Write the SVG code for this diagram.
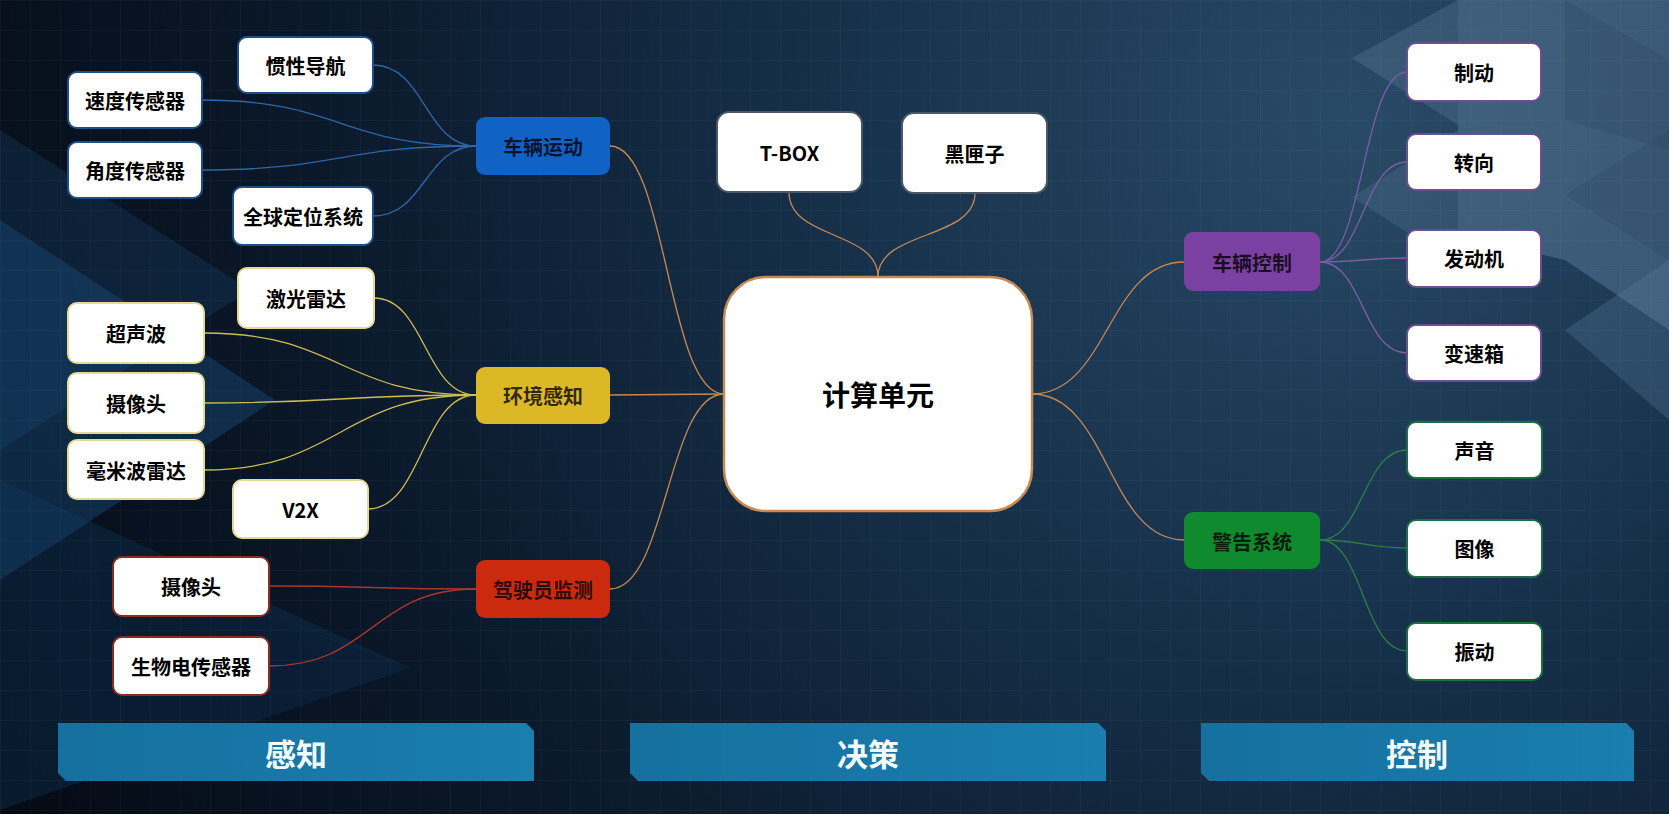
<svg xmlns="http://www.w3.org/2000/svg" width="1669" height="814" viewBox="0 0 1669 814">
<defs>
<radialGradient id="bg" cx="1350" cy="120" r="1500" gradientUnits="userSpaceOnUse">
<stop offset="0" stop-color="#294a66"/>
<stop offset="0.35" stop-color="#16304a"/>
<stop offset="0.7" stop-color="#0a1829"/>
<stop offset="1" stop-color="#050b15"/>
</radialGradient>
<pattern id="grid" width="30" height="30" patternUnits="userSpaceOnUse">
<path d="M30 0 L0 0 0 30" fill="none" stroke="#7fb0e0" stroke-opacity="0.1" stroke-width="1"/>
</pattern>
<linearGradient id="ban" x1="0" y1="0" x2="1" y2="0">
<stop offset="0" stop-color="#15709f"/>
<stop offset="1" stop-color="#1a7eae"/>
</linearGradient>
</defs>
<style>
.child{fill:#fff;stroke-width:2}
.main{stroke:none}
.t{font-family:"Noto Sans CJK SC","Noto Sans",sans-serif;font-weight:bold;font-size:20px;fill:#000;text-anchor:middle;dominant-baseline:central}
.tm{font-family:"Noto Sans CJK SC","Noto Sans",sans-serif;font-weight:bold;font-size:20px;fill:#000;fill-opacity:0.78;text-anchor:middle;dominant-baseline:central}
.tb{font-family:"Noto Sans CJK SC","Noto Sans",sans-serif;font-weight:bold;font-size:31px;fill:#f2fbff;text-anchor:middle;dominant-baseline:central}
.c{fill:none;stroke-width:1.3}
.cb{stroke:#2e66a8}.cy{stroke:#cdbd52}.cr{stroke:#a8382c}.cp{stroke:#7e5ca4}.cg{stroke:#2b7d4c}.co{stroke:#c98750}
.sb{stroke:#1d4f88}.sy{stroke:#e4da96}.sr{stroke:#8a2c22}.sp{stroke:#6e4d90}.sg{stroke:#1f6e40}.sk{stroke:#4d5866}
</style>
<!-- background -->
<rect width="1669" height="814" fill="url(#bg)"/>
<g>
<polygon points="0,220 275,400 0,580" fill="#1c5a8e" opacity="0.35"/>
<polygon points="0,130 250,290 0,450" fill="#1a4f80" opacity="0.25"/>
<polygon points="0,480 410,668 0,810" fill="#123e66" opacity="0.3"/>
<polygon points="100,560 410,668 100,780" fill="#0a1a30" opacity="0.35"/>
<polygon points="1458,0 1669,0 1669,330 1565,260 1458,235" fill="#6b8fae" opacity="0.38"/>
<polygon points="1352,58 1458,0 1458,125" fill="#7a9cb8" opacity="0.22"/>
<polygon points="1352,197 1458,130 1458,265" fill="#7a9cb8" opacity="0.18"/>
<polygon points="1565,0 1669,60 1669,150 1565,120" fill="#2d4a63" opacity="0.35"/>
<polygon points="1565,195 1669,130 1669,260" fill="#2d4a63" opacity="0.35"/>
<polygon points="1565,330 1669,260 1669,420" fill="#5a7d9b" opacity="0.3"/>
</g>
<rect width="1669" height="814" fill="url(#grid)"/>

<!-- connectors -->
<g id="connectors">
<path class="c co" d="M610,146 C667,146 667,394 724,394"/>
<path class="c co" d="M610,395 L724,394"/>
<path class="c co" d="M610,589 C667,589 667,394 724,394"/>
<path class="c co" d="M1032,394 C1108,394 1108,262 1184,262"/>
<path class="c co" d="M1032,394 C1108,394 1108,540 1184,540"/>
<path class="c co" d="M789,192 C789,240 878,230 878,277"/>
<path class="c co" d="M975,193 C975,240 878,230 878,277"/>

<path class="c cb" d="M373,65 C425,65 425,146 476,146"/>
<path class="c cb" d="M202,100 C340,100 340,146 476,146"/>
<path class="c cb" d="M202,170 C340,170 340,146 476,146"/>
<path class="c cb" d="M373,216 C425,216 425,146 476,146"/>

<path class="c cy" d="M374,298 C425,298 425,395 476,395"/>
<path class="c cy" d="M204,333 C340,333 340,395 476,395"/>
<path class="c cy" d="M204,403 C340,403 340,395 476,395"/>
<path class="c cy" d="M204,470 C340,470 340,395 476,395"/>
<path class="c cy" d="M368,509 C422,509 422,395 476,395"/>

<path class="c cr" d="M269,586 C372,586 372,589 476,589"/>
<path class="c cr" d="M269,666 C372,666 372,589 476,589"/>

<path class="c cp" d="M1320,262 C1363,262 1363,72 1407,72"/>
<path class="c cp" d="M1320,262 C1363,262 1363,162 1407,162"/>
<path class="c cp" d="M1320,262 C1363,262 1363,258 1407,258"/>
<path class="c cp" d="M1320,262 C1363,262 1363,353 1407,353"/>

<path class="c cg" d="M1320,540 C1363,540 1363,450 1407,450"/>
<path class="c cg" d="M1320,540 C1363,540 1363,548 1407,548"/>
<path class="c cg" d="M1320,540 C1363,540 1363,651 1407,651"/>
</g>

<!-- center -->
<g id="n-center">
<rect x="724" y="277" width="308" height="234" rx="42" fill="#fff" stroke="#c98a52" stroke-width="2.5"/>
<text class="t" x="878" y="394" style="font-size:28px">计算单元</text>
</g>
<g id="n-tbox"><rect class="child sk" x="717" y="112" width="145" height="80" rx="12"/><text class="t" x="789.5" y="152">T-BOX</text></g>
<g id="n-blackbox"><rect class="child sk" x="902" y="113" width="145" height="80" rx="12"/><text class="t" x="974.5" y="153">黑匣子</text></g>

<!-- main nodes -->
<g id="n-motion"><rect class="main" x="476" y="117" width="134" height="58" rx="9" fill="#1063c4"/><text class="tm" x="543" y="146">车辆运动</text></g>
<g id="n-env"><rect class="main" x="476" y="367" width="134" height="57" rx="9" fill="#dcb826"/><text class="tm" x="543" y="395">环境感知</text></g>
<g id="n-driver"><rect class="main" x="476" y="560" width="134" height="58" rx="9" fill="#cc2a0e"/><text class="tm" x="543" y="589">驾驶员监测</text></g>
<g id="n-ctrl"><rect class="main" x="1184" y="232" width="136" height="59" rx="9" fill="#7b41a2"/><text class="tm" x="1252" y="262">车辆控制</text></g>
<g id="n-warn"><rect class="main" x="1184" y="512" width="136" height="57" rx="9" fill="#0f8a2e"/><text class="tm" x="1252" y="541">警告系统</text></g>

<!-- vehicle motion children -->
<g id="n-ins"><rect class="child sb" x="238" y="37" width="135" height="56" rx="9"/><text class="t" x="305.5" y="65">惯性导航</text></g>
<g id="n-speed"><rect class="child sb" x="68" y="72" width="134" height="56" rx="9"/><text class="t" x="135" y="100">速度传感器</text></g>
<g id="n-angle"><rect class="child sb" x="68" y="142" width="134" height="56" rx="9"/><text class="t" x="135" y="170">角度传感器</text></g>
<g id="n-gps"><rect class="child sb" x="233" y="187" width="140" height="58" rx="9"/><text class="t" x="303" y="216">全球定位系统</text></g>

<!-- environment children -->
<g id="n-lidar"><rect class="child sy" x="238" y="268" width="136" height="60" rx="9"/><text class="t" x="306" y="298">激光雷达</text></g>
<g id="n-ultra"><rect class="child sy" x="68" y="303" width="136" height="60" rx="9"/><text class="t" x="136" y="333">超声波</text></g>
<g id="n-cam"><rect class="child sy" x="68" y="373" width="136" height="60" rx="9"/><text class="t" x="136" y="403">摄像头</text></g>
<g id="n-mmw"><rect class="child sy" x="68" y="440" width="136" height="59" rx="9"/><text class="t" x="136" y="470">毫米波雷达</text></g>
<g id="n-v2x"><rect class="child sy" x="233" y="480" width="135" height="58" rx="9"/><text class="t" x="300.5" y="509">V2X</text></g>

<!-- driver children -->
<g id="n-dcam"><rect class="child sr" x="113" y="557" width="156" height="59" rx="9"/><text class="t" x="191" y="586.5">摄像头</text></g>
<g id="n-bio"><rect class="child sr" x="113" y="637" width="156" height="58" rx="9"/><text class="t" x="191" y="666">生物电传感器</text></g>

<!-- control children -->
<g id="n-brake"><rect class="child sp" x="1407" y="43" width="134" height="58" rx="9"/><text class="t" x="1474" y="72">制动</text></g>
<g id="n-steer"><rect class="child sp" x="1407" y="134" width="134" height="56" rx="9"/><text class="t" x="1474" y="162">转向</text></g>
<g id="n-engine"><rect class="child sp" x="1407" y="230" width="134" height="57" rx="9"/><text class="t" x="1474" y="258.5">发动机</text></g>
<g id="n-gear"><rect class="child sp" x="1407" y="325" width="134" height="56" rx="9"/><text class="t" x="1474" y="353">变速箱</text></g>

<!-- warning children -->
<g id="n-sound"><rect class="child sg" x="1407" y="422" width="135" height="56" rx="9"/><text class="t" x="1474.5" y="450">声音</text></g>
<g id="n-image"><rect class="child sg" x="1407" y="520" width="135" height="57" rx="9"/><text class="t" x="1474.5" y="548.5">图像</text></g>
<g id="n-vib"><rect class="child sg" x="1407" y="623" width="135" height="57" rx="9"/><text class="t" x="1474.5" y="651.5">振动</text></g>

<!-- banners -->
<g id="b-perceive"><path d="M58,723 L526,723 L534,731 L534,781 L66,781 L58,773 Z" fill="url(#ban)"/><text class="tb" x="296" y="752">感知</text></g>
<g id="b-decide"><path d="M630,723 L1098,723 L1106,731 L1106,781 L638,781 L630,773 Z" fill="url(#ban)"/><text class="tb" x="868" y="752">决策</text></g>
<g id="b-control"><path d="M1201,723 L1626,723 L1634,731 L1634,781 L1209,781 L1201,773 Z" fill="url(#ban)"/><text class="tb" x="1417" y="752">控制</text></g>
</svg>
